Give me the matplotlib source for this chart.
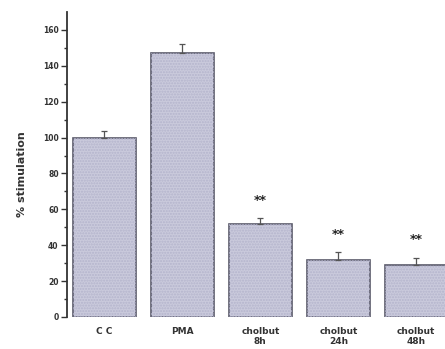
import matplotlib
matplotlib.use("Agg")
import matplotlib.pyplot as plt
import numpy as np

categories = ["C C", "PMA", "cholbut\n8h", "cholbut\n24h", "cholbut\n48h"]
values = [100, 147, 52, 32, 29]
errors = [3.5, 5, 3, 4, 4]
stars = ["", "", "**", "**", "**"]

fig = plt.figure(figsize=(4.45, 3.49), dpi=100)
ax = fig.add_axes([0.1506, 0.0917, 0.89, 0.874])

x = np.arange(len(categories))
width = 0.81
ax.bar(x, values, width=width, color="#cacadc", edgecolor="#5a5a6a",
       linewidth=1.2, zorder=2)
ax.bar(x, values, width=width, color="none", edgecolor="#b4b4cc",
       hatch="......", linewidth=0, zorder=3)
ax.errorbar(x, values, yerr=[np.zeros(len(values)), errors], fmt="none",
            ecolor="#555555", elinewidth=0.9, capsize=2.2, capthick=0.9, zorder=4)

for xi, v, e, s in zip(x, values, errors, stars):
    if s:
        ax.text(xi, v + e + 10, s, ha="center", va="center",
                fontsize=9, fontweight="bold", color="#222222")

ax.set_xlim(-0.48, 4.6)
ax.set_ylim(0, 170)
ax.set_yticks(np.arange(0, 161, 20))
ax.set_yticks(np.arange(10, 170, 20), minor=True)
ax.tick_params(axis="y", which="major", direction="out", length=4, width=1,
               labelsize=5.5, pad=2, colors="#333333")
ax.tick_params(axis="y", which="minor", direction="out", length=2.5, width=1,
               colors="#333333")
for lbl in ax.get_yticklabels():
    lbl.set_fontweight("bold")

ax.set_xticks(x)
ax.set_xticklabels(categories, fontsize=6.5, fontweight="bold", color="#333333",
                   linespacing=1.15)
ax.tick_params(axis="x", length=0, pad=7)

ax.set_ylabel("% stimulation", fontsize=8, fontweight="bold", color="#333333")
ax.yaxis.set_label_coords(-0.1, 0.47)

for side in ["top", "right", "bottom"]:
    ax.spines[side].set_visible(False)
ax.spines["left"].set_linewidth(1.3)
ax.spines["left"].set_color("#333333")

fig.savefig("out.png", dpi=100)
